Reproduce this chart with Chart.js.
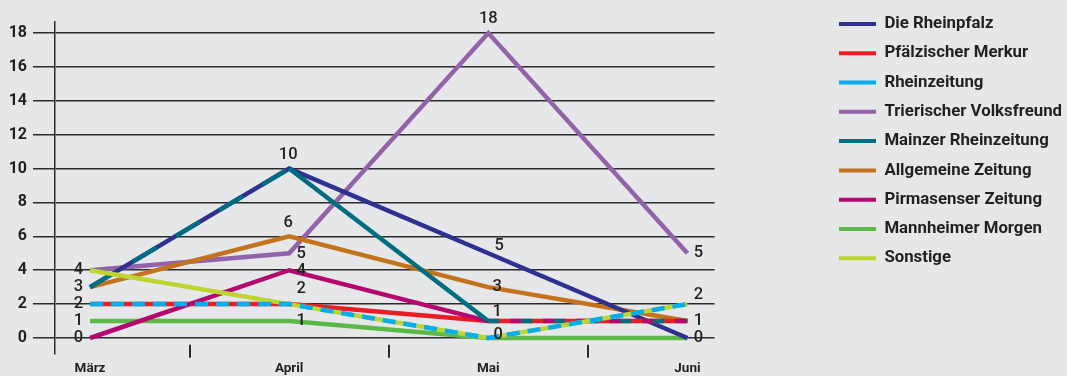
<!DOCTYPE html>
<html>
<head>
<meta charset="utf-8">
<script src="https://cdn.jsdelivr.net/npm/chart.js@4.4.1/dist/chart.umd.min.js"></script>
<style>
  html, body { margin: 0; padding: 0; background: #e6e7e9; }
  #wrap { width: 1067px; height: 376px; position: relative; }
</style>
</head>
<body>
<div id="wrap"><canvas id="chart"></canvas></div>
<script>
const months = ['März', 'April', 'Mai', 'Juni'];
const yTicks = [0, 2, 4, 6, 8, 10, 12, 14, 16, 18];

const rheinpfalz   = [3, 10, 5, 0];
const merkur       = [2, 2, 1, 1];
const rheinzeitung = [2, 2, 0, 2];
const volksfreund  = [4, 5, 18, 5];
const mainzer      = [3, 10, 1, 1];
const allgemeine   = [3, 6, 3, 1];
const pirmasenser  = [0, 4, 1, 1];
const mannheimer   = [1, 1, 0, 0];
const sonstige     = [4, 2, 0, 2];

const allSeries = [rheinpfalz, merkur, rheinzeitung, volksfreund, mainzer, allgemeine, pirmasenser, mannheimer, sonstige];

// label nudges (px) per month, plus a few special cases
const nudgeDefault = [[-7, 0], [12, 1], [11, -7], [11, 0]];
const nudgeSpecial = {
  '1:10': [-1, -14], '1:6': [-1, -13], '1:2': [12, -15], '1:1': [12, 0],
  '2:18': [0, -14], '2:3': [9, 0], '2:1': [9, -9], '2:0': [10, -3],
  '3:2': [11, -9]
};

const line = (label, values, color, order, extra) => Object.assign({
  label,
  data: values.map((v, i) => ({ x: i, y: v })),
  borderColor: color,
  backgroundColor: color,
  borderWidth: 4.5,
  pointRadius: 0,
  pointHoverRadius: 0,
  tension: 0,
  fill: false,
  borderCapStyle: 'butt',
  borderJoinStyle: 'miter',
  order
}, extra || {});

const datasets = [
  line('Die Rheinpfalz', rheinpfalz, '#2e3192', 5),
  line('Pfälzischer Merkur', merkur, '#ed1c24', 4),
  line('Rheinzeitung', rheinzeitung, '#00aeef', 0, { borderDash: [13, 8] }),
  line('Trierischer Volksfreund', volksfreund, '#9363aa', 7),
  line('Mainzer Rheinzeitung', mainzer, '#006d80', 2, {
    segment: {
      borderDash: ctx => ctx.p0DataIndex === 0 ? [28, 22] : ctx.p0DataIndex === 2 ? [11, 22] : undefined
    }
  }),
  line('Allgemeine Zeitung', allgemeine, '#c4731d', 6),
  line('Pirmasenser Zeitung', pirmasenser, '#b4086e', 3, {
    segment: {
      borderDash: ctx => ctx.p0DataIndex === 2 ? [11, 22] : undefined,
      borderDashOffset: ctx => ctx.p0DataIndex === 2 ? 11 : undefined
    }
  }),
  line('Mannheimer Morgen', mannheimer, '#5cb947', 8),
  line('Sonstige', sonstige, '#bdd431', 1)
];

const valueLabels = {
  id: 'valueLabels',
  afterDatasetsDraw(chart) {
    const { ctx, scales: { x, y } } = chart;
    ctx.save();
    ctx.font = '500 16.5px Roboto';
    ctx.fillStyle = '#231f20';
    ctx.textBaseline = 'middle';
    months.forEach((m, i) => {
      const vals = [...new Set(allSeries.map(s => s[i]))];
      vals.forEach(v => {
        const [dx, dy] = nudgeSpecial[i + ':' + v] || nudgeDefault[i];
        ctx.textAlign = i === 0 ? 'right' : 'center';
        ctx.fillText(String(v), x.getPixelForValue(i) + dx, y.getPixelForValue(v) + dy);
      });
    });
    // small tick marks between the months
    ctx.strokeStyle = '#2b2b2b';
    ctx.lineWidth = 2;
    for (let i = 0; i < months.length - 1; i++) {
      const px = Math.round(x.getPixelForValue(i + 0.5));
      ctx.beginPath();
      ctx.moveTo(px, y.getPixelForValue(-0.4));
      ctx.lineTo(px, y.getPixelForValue(-1.17));
      ctx.stroke();
    }
    ctx.restore();
  }
};

new Chart(document.getElementById('chart'), {
  type: 'line',
  data: { datasets },
  plugins: [valueLabels],
  options: {
    responsive: true,
    maintainAspectRatio: false,
    animation: false,
    layout: { padding: { left: 0, right: -5, top: 3, bottom: 0 } },
    plugins: {
      tooltip: { enabled: false },
      legend: {
        position: 'right',
        align: 'start',
        labels: {
          boxWidth: 37,
          boxHeight: 4,
          padding: 12.5,
          color: '#231f20',
          font: { family: 'Roboto', size: 16.8, weight: 'bold' },
          sort: (a, b) => a.datasetIndex - b.datasetIndex,
          generateLabels: chart => Chart.defaults.plugins.legend.labels.generateLabels(chart)
            .map(l => Object.assign(l, { lineWidth: 0, lineDash: [], fillStyle: l.strokeStyle }))
        }
      }
    },
    scales: {
      x: {
        type: 'linear',
        min: -0.176,
        max: 3.136,
        afterBuildTicks: s => { s.ticks = months.map((m, i) => ({ value: i })); },
        afterFit: s => { s.height = 22; },
        ticks: {
          padding: 7,
          color: '#231f20',
          font: { family: 'Roboto', size: 13.5, weight: 'bold' },
          callback: v => months[v]
        },
        grid: { display: false, drawTicks: false },
        border: { display: false }
      },
      y: {
        min: -0.944,
        max: 18.649,
        afterBuildTicks: s => { s.ticks = yTicks.map(v => ({ value: v })); },
        afterFit: s => { s.width = 55; },
        ticks: {
          padding: 6,
          color: '#231f20',
          font: { family: 'Roboto', size: 16, weight: 'bold' }
        },
        grid: { color: '#2b2b2b', lineWidth: 1.5, tickLength: 22 },
        border: { display: true, color: '#2b2b2b', width: 1.5 }
      },
      top: {
        type: 'linear',
        position: 'top',
        display: false,
        afterFit: s => { s.height = 19; }
      },
      gap: {
        type: 'linear',
        position: 'right',
        display: false,
        afterFit: s => { s.width = 112; }
      }
    }
  }
});
</script>
</body>
</html>
